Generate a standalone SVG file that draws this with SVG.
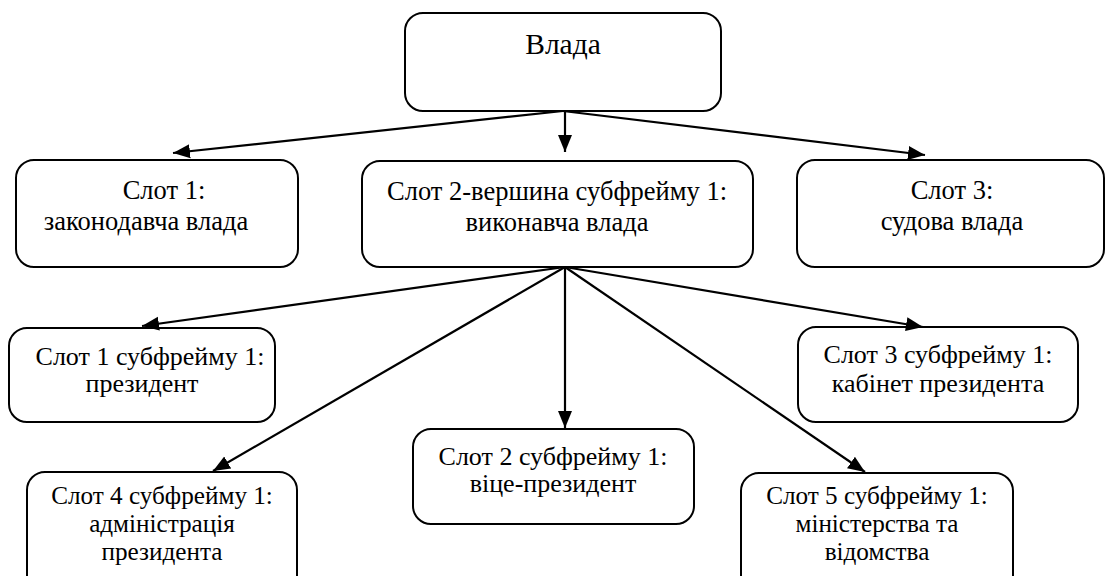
<svg xmlns="http://www.w3.org/2000/svg" width="1106" height="576" viewBox="0 0 1106 576">
<style>
.box{fill:#fff;stroke:#000;stroke-width:2}
.t{font-family:'Liberation Serif','Times New Roman',serif;font-size:26.5px;fill:#000;text-anchor:middle}
.s{font-size:26px}
.s3{font-size:25.2px}
.big{font-size:29.5px}
.c{stroke:#000;stroke-width:2.2;fill:none;marker-end:url(#ah)}
</style>
<defs>
<marker id="ah" markerUnits="userSpaceOnUse" markerWidth="18" markerHeight="16" refX="17" refY="8" orient="auto">
<path d="M0,1 L17,8 L0,15 Z" fill="#000"/>
</marker>
</defs>
<rect width="1106" height="576" fill="#fff"/>
<g id="n0"><rect class="box" x="405" y="13" width="316" height="98" rx="18"/><text class="t big" x="563" y="54">Влада</text></g>
<g id="n1"><rect class="box" x="16" y="160" width="282" height="107" rx="18"/><text class="t" x="164" y="199">Слот 1:</text><text class="t" x="146" y="230">законодавча влада</text></g>
<g id="n2"><rect class="box" x="362" y="161" width="391" height="106" rx="18"/><text class="t" x="557" y="200">Слот 2-вершина субфрейму 1:</text><text class="t" x="557" y="231">виконавча влада</text></g>
<g id="n3"><rect class="box" x="797" y="160" width="307" height="107" rx="18"/><text class="t" x="952" y="199">Слот 3:</text><text class="t" x="952" y="230">судова влада</text></g>
<g id="n4"><rect class="box" x="9" y="328" width="266" height="94" rx="18"/><text class="t s" x="150" y="365">Слот 1 субфрейму 1:</text><text class="t s" x="142" y="392">президент</text></g>
<g id="n5"><rect class="box" x="413" y="429" width="281" height="95" rx="18"/><text class="t s" x="553" y="465">Слот 2 субфрейму 1:</text><text class="t s" x="553" y="492">віце-президент</text></g>
<g id="n6"><rect class="box" x="798" y="327" width="280" height="95" rx="18"/><text class="t s" x="938" y="363">Слот 3 субфрейму 1:</text><text class="t s" x="938" y="392">кабінет президента</text></g>
<g id="n7"><rect class="box" x="27" y="472" width="270" height="130" rx="18"/><text class="t s3" x="162" y="504">Слот 4 субфрейму 1:</text><text class="t s3" x="162" y="532">адміністрація</text><text class="t s3" x="162" y="560">президента</text></g>
<g id="n8"><rect class="box" x="741" y="473" width="272" height="130" rx="18"/><text class="t s3" x="877" y="504">Слот 5 субфрейму 1:</text><text class="t s3" x="877" y="532">міністерства та</text><text class="t s3" x="877" y="560">відомства</text></g>
<g id="connectors">
<line class="c" x1="563" y1="111" x2="173" y2="153"/>
<line class="c" x1="565" y1="111" x2="565" y2="152"/>
<line class="c" x1="563" y1="111" x2="925" y2="155"/>
<line class="c" x1="565" y1="267" x2="142" y2="326"/>
<line class="c" x1="565" y1="267" x2="213" y2="471"/>
<line class="c" x1="565" y1="267" x2="565" y2="428"/>
<line class="c" x1="565" y1="267" x2="923" y2="327"/>
<line class="c" x1="565" y1="267" x2="865" y2="472"/>
</g>
</svg>
